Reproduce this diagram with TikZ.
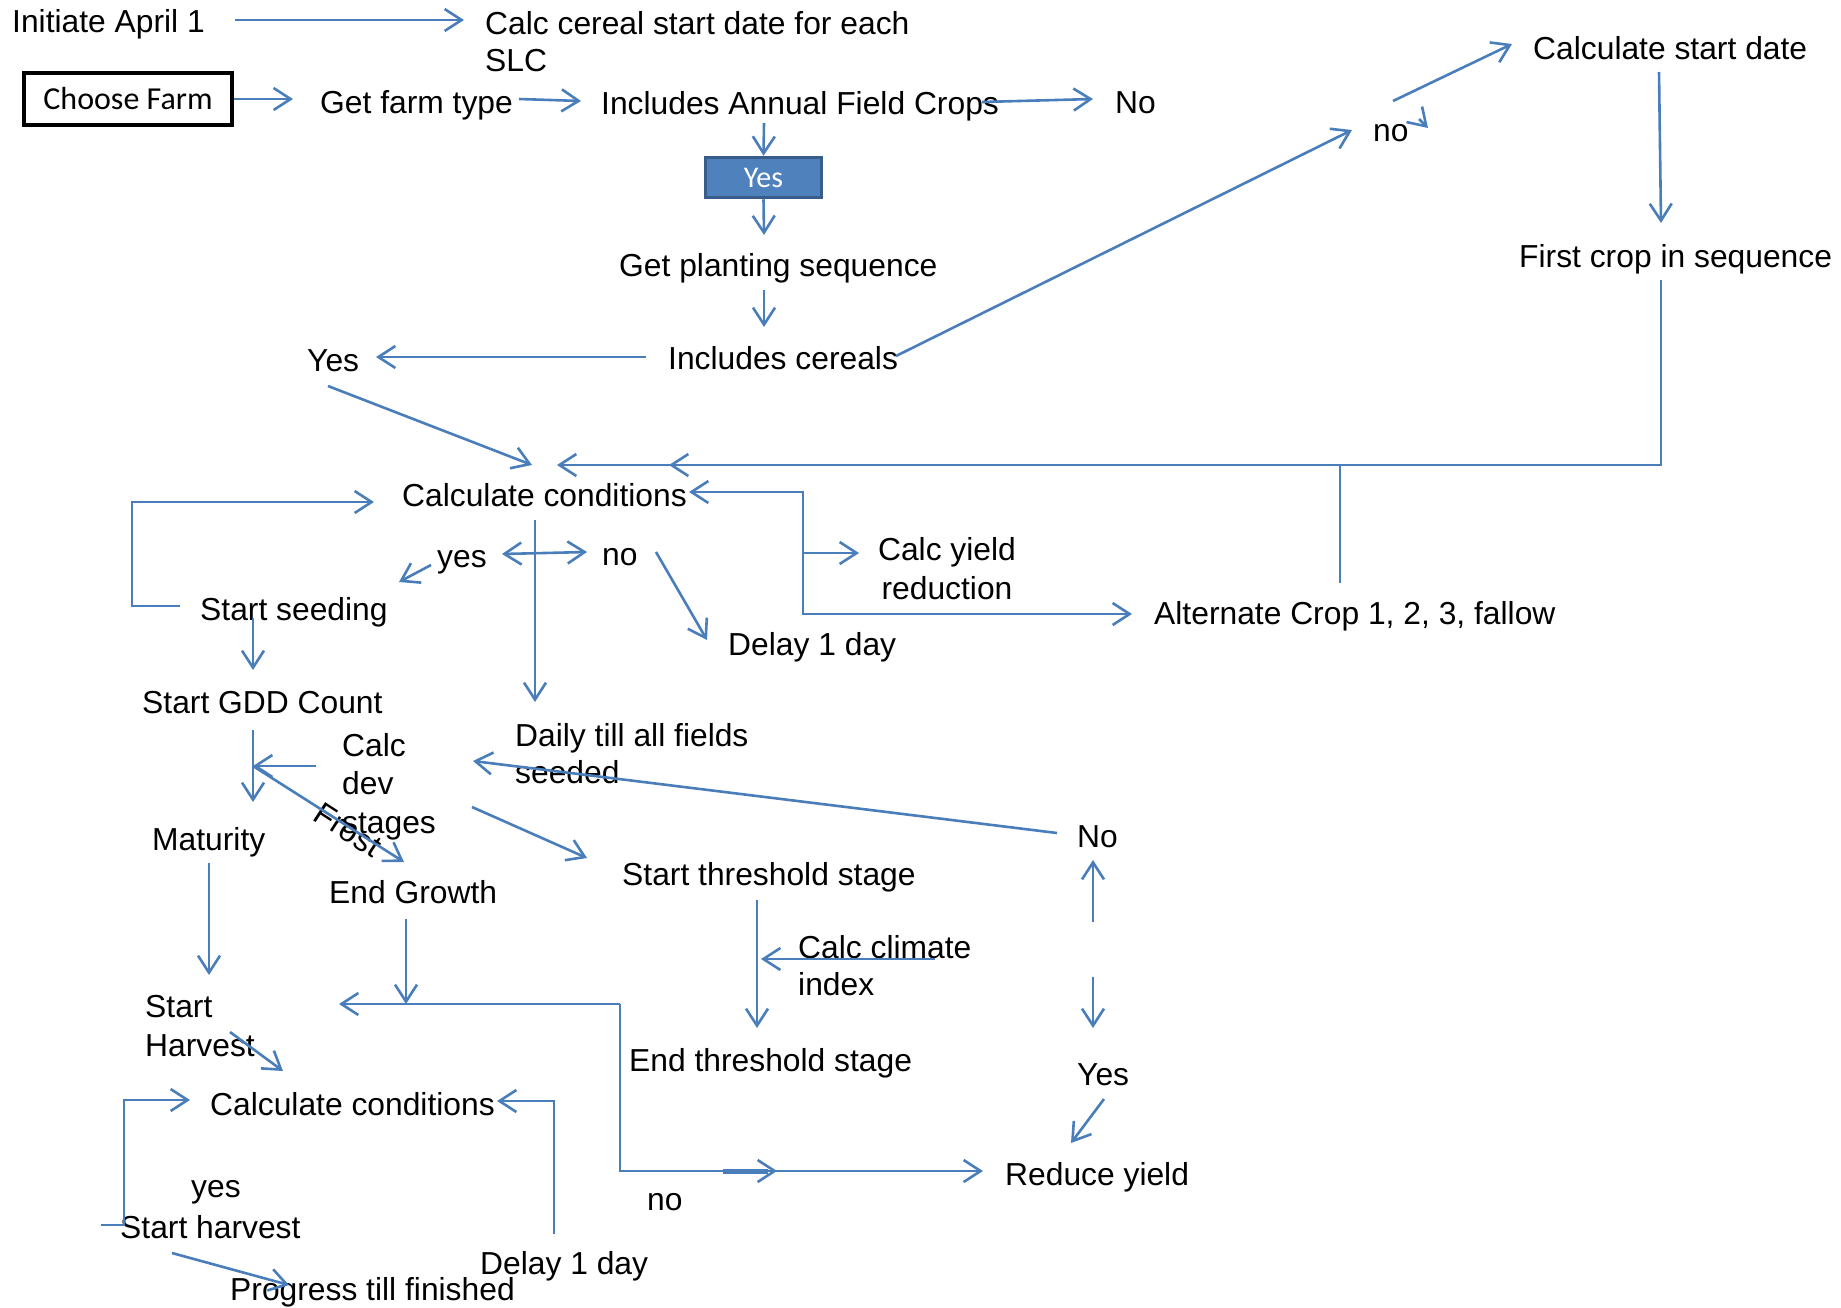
\documentclass[tikz,border=0pt]{standalone}
\usepackage{fontspec}
\setmainfont{Liberation Sans}
\newfontfamily\calibri{Carlito}
\usetikzlibrary{arrows.meta}
\definecolor{flowblue}{HTML}{4A7EBB}
\definecolor{boxblue}{HTML}{4F81BD}
\definecolor{boxrim}{HTML}{385D8A}

\begin{document}
\begin{tikzpicture}[x=1pt, y=-1pt,
    every node/.style={font=\fontsize{31.8}{37}\selectfont, inner sep=0pt},
    txt/.style={anchor=base west},
    block/.style={anchor=north west, align=left},
    link/.style={draw=flowblue, line width=2.6pt},
    arr/.style={link, -{Straight Barb[length=17pt, width=22pt]}},
    biarr/.style={link, {Straight Barb[length=17pt, width=22pt]}-{Straight Barb[length=17pt, width=22pt]}}]
  \useasboundingbox (0,0) rectangle (1841,1307);

  % nodes, top part
  \node[txt] (init) at (12,32) {Initiate April 1};
  \node[block] (cereal) at (485,11) {Calc cereal start date for each\\SLC};
  \node[draw=black, line width=4.5pt, minimum width=208pt, minimum height=52pt,
        font=\calibri\fontsize{32}{37}\selectfont] (farm) at (128,99) {Choose Farm};
  \node[txt] (farmtype) at (320,113) {Get farm type};
  \node[txt] (annual) at (601,114) {Includes Annual Field Crops};
  \node[txt] (nocrops) at (1115,113) {No};
  \node[fill=boxblue, draw=boxrim, line width=3.5pt, minimum width=116pt, minimum height=40pt,
        text=white, font=\calibri\fontsize{30}{36}\selectfont] (yesbox) at (763.5,177.5) {Yes};
  \node[txt] (planting) at (619,276) {Get planting sequence};
  \node[txt] (cereals) at (668,369) {Includes cereals};
  \node[txt] (yescer) at (307,371) {Yes};
  \node[txt] (nocer) at (1373,141) {no};
  \node[txt] (startdate) at (1533,59) {Calculate start date};
  \node[txt] (firstcrop) at (1519,267) {First crop in sequence};

  % nodes, seeding part
  \node[txt] (condA) at (402,506) {Calculate conditions};
  \node[anchor=north, align=center, font=\fontsize{31.8}{39}\selectfont] (yieldcalc) at (947,537) {Calc yield\\reduction};
  \node[txt] (alternate) at (1154,624) {Alternate Crop 1, 2, 3, fallow};
  \node[txt] (yesA) at (437,567) {yes};
  \node[txt] (noA) at (602,565) {no};
  \node[txt] (delayA) at (728,655) {Delay 1 day};
  \node[txt] (seeding) at (200,620) {Start seeding};
  \node[txt] (gdd) at (142,713) {Start GDD Count};
  \node[block, font=\fontsize{31.8}{38.5}\selectfont] (devstages) at (342,733) {Calc\\dev\\stages};
  \node[block] (daily) at (515,723) {Daily till all fields\\seeded};
  \node[txt] (maturity) at (152,850) {Maturity};
  \node[txt] (endgrowth) at (329,903) {End Growth};
  \node[txt] (startthr) at (622,885) {Start threshold stage};
  \node[block] (climate) at (798,935) {Calc climate\\index};
  \node[txt] (endthr) at (629,1071) {End threshold stage};
  \node[txt] (noB) at (1077,847) {No};
  \node[txt] (yesB) at (1077,1085) {Yes};
  \node[txt] (reduce) at (1005,1185) {Reduce yield};
  \node[rotate=-33] (frost) at (348,830) {Frost};

  % nodes, harvest part
  \node[block, font=\fontsize{31.8}{39}\selectfont] (startH) at (145,995) {Start\\Harvest};
  \node[txt] (condB) at (210,1115) {Calculate conditions};
  \node[txt] (yesC) at (191,1197) {yes};
  \node[txt] (noC) at (647,1210) {no};
  \node[txt] (harvest) at (120,1238) {Start harvest};
  \node[txt] (delayB) at (480,1274) {Delay 1 day};
  \node[txt] (progress) at (230,1300) {Progress till finished};

  % connector ends
  \coordinate (initOut) at (235,20);     \coordinate (cerealIn) at (464,20);
  \coordinate (typeIn) at (293,99);      \coordinate (typeOut) at (519,99);
  \coordinate (annualIn) at (581,101);   \coordinate (annualOut) at (982,102);
  \coordinate (noCropsIn) at (1093,99);  \coordinate (annualDown) at (764,123);
  \coordinate (plantIn) at (764,235);    \coordinate (plantOut) at (764,290);
  \coordinate (cerealsIn) at (764,327);  \coordinate (cerealsL) at (646,357);
  \coordinate (yesCerIn) at (376,357);   \coordinate (cerealsR) at (896,356);
  \coordinate (noCerIn) at (1352,130);   \coordinate (tickTail) at (1419,119);
  \coordinate (tickTip) at (1428,128);   \coordinate (noCerOut) at (1393,101);
  \coordinate (startIn) at (1512,44);    \coordinate (startOut) at (1659,72);
  \coordinate (firstIn) at (1661,223);   \coordinate (firstOut) at (1661,280);
  \coordinate (condTopIn) at (557,465);  \coordinate (midTail) at (700,465);
  \coordinate (midTip) at (669,465);     \coordinate (alternateUp) at (1340,583);
  \coordinate (yesCerOut) at (328,386);  \coordinate (condTopDiag) at (532,465);
  \coordinate (seedLoop) at (180,606);   \coordinate (condLoopIn) at (374,502);
  \coordinate (condAIn) at (689,492);    \coordinate (bracketTop) at (803,492);
  \coordinate (bracketMid) at (803,553); \coordinate (bracketBot) at (803,614);
  \coordinate (yieldIn) at (859,553);    \coordinate (alternateIn) at (1132,614);
  \coordinate (condADown) at (535,520);  \coordinate (dailyIn) at (535,702);
  \coordinate (yesAIn) at (502,554);     \coordinate (noAIn) at (587,552);
  \coordinate (yesAOut) at (431,565);    \coordinate (seedIn) at (399,582);
  \coordinate (noAOut) at (656,552);     \coordinate (delayAIn) at (707,640);
  \coordinate (seedDown) at (253,618);   \coordinate (gddIn) at (253,670);
  \coordinate (gddDown) at (253,730);    \coordinate (maturityIn) at (253,802);
  \coordinate (devOut) at (316,766);     \coordinate (devIn) at (253,766);
  \coordinate (endGrowthIn) at (404,862);\coordinate (devRight) at (472,807);
  \coordinate (thrIn) at (587,858);      \coordinate (noBOut) at (1057,833);
  \coordinate (dailyBack) at (473,761);  \coordinate (maturityDown) at (209,863);
  \coordinate (harvestIn) at (209,975);  \coordinate (endGrowthDown) at (406,919);
  \coordinate (joinTop) at (406,1004);   \coordinate (joinRight) at (620,1004);
  \coordinate (startHIn) at (339,1004);  \coordinate (reduceIn) at (983,1171);
  \coordinate (thickTail) at (723,1171); \coordinate (thickEnd) at (768,1171);
  \coordinate (thickTip) at (777,1171);  \coordinate (thrDown) at (757,900);
  \coordinate (endThrIn) at (757,1028);  \coordinate (climateOut) at (935,959);
  \coordinate (thrSide) at (761,959);    \coordinate (noBUpTail) at (1093,922);
  \coordinate (noBIn) at (1093,860);     \coordinate (yesBTail) at (1093,977);
  \coordinate (yesBIn) at (1093,1028);   \coordinate (yesBOut) at (1104,1099);
  \coordinate (reduceDiag) at (1071,1143);
  \coordinate (startHOut) at (230,1032); \coordinate (condBDiag) at (283,1071);
  \coordinate (harvestLoop) at (101,1225); \coordinate (condBIn) at (190,1100);
  \coordinate (delayBUp) at (554,1234);  \coordinate (condBRight) at (497,1101);
  \coordinate (harvestOut) at (172,1253);\coordinate (progressIn) at (289,1285);

  % connectors, top part
  \draw[arr] (initOut) -- (cerealIn);
  \draw[arr] (farm.east) -- (typeIn);
  \draw[arr] (typeOut) -- (annualIn);
  \draw[arr] (annualOut) -- (noCropsIn);
  \draw[arr] (annualDown) -- (yesbox.north);
  \draw[arr] (yesbox.south) -- (plantIn);
  \draw[arr] (plantOut) -- (cerealsIn);
  \draw[arr] (cerealsL) -- (yesCerIn);
  \draw[arr] (cerealsR) -- (noCerIn);
  \draw[arr] (tickTail) -- (tickTip);
  \draw[arr] (noCerOut) -- (startIn);
  \draw[arr] (startOut) -- (firstIn);
  \draw[arr] (firstOut) |- (condTopIn);
  \draw[arr] (midTail) -- (midTip);
  \draw[link] (alternateUp) -- (alternateUp |- condTopIn);
  \draw[arr] (yesCerOut) -- (condTopDiag);

  % connectors, seeding part
  \draw[arr] (seedLoop) -- ++(-48,0) |- (condLoopIn);
  \draw[biarr] (condAIn) -- (bracketTop) -- (bracketBot) -- (alternateIn);
  \draw[arr] (bracketMid) -- (yieldIn);
  \draw[arr] (condADown) -- (dailyIn);
  \draw[biarr] (yesAIn) -- (noAIn);
  \draw[arr] (yesAOut) -- (seedIn);
  \draw[arr] (noAOut) -- (delayAIn);
  \draw[arr] (seedDown) -- (gddIn);
  \draw[arr] (gddDown) -- (maturityIn);
  \draw[arr] (devOut) -- (devIn);
  \draw[arr] (devIn) -- (endGrowthIn);
  \draw[arr] (devRight) -- (thrIn);
  \draw[arr] (noBOut) -- (dailyBack);
  \draw[arr] (maturityDown) -- (harvestIn);
  \draw[arr] (endGrowthDown) -- (joinTop);
  \draw[arr] (joinRight) -- (startHIn);
  \draw[arr] (joinRight) |- (reduceIn);
  \draw[link, line width=5pt] (thickTail) -- (thickEnd);
  \draw[arr] (thickTail) -- (thickTip);
  \draw[arr] (thrDown) -- (endThrIn);
  \draw[arr] (climateOut) -- (thrSide);
  \draw[arr] (noBUpTail) -- (noBIn);
  \draw[arr] (yesBTail) -- (yesBIn);
  \draw[arr] (yesBOut) -- (reduceDiag);

  % connectors, harvest part
  \draw[arr] (startHOut) -- (condBDiag);
  \draw[arr] (harvestLoop) -- ++(23,0) |- (condBIn);
  \draw[arr] (delayBUp) |- (condBRight);
  \draw[arr] (harvestOut) -- (progressIn);
\end{tikzpicture}
\end{document}
